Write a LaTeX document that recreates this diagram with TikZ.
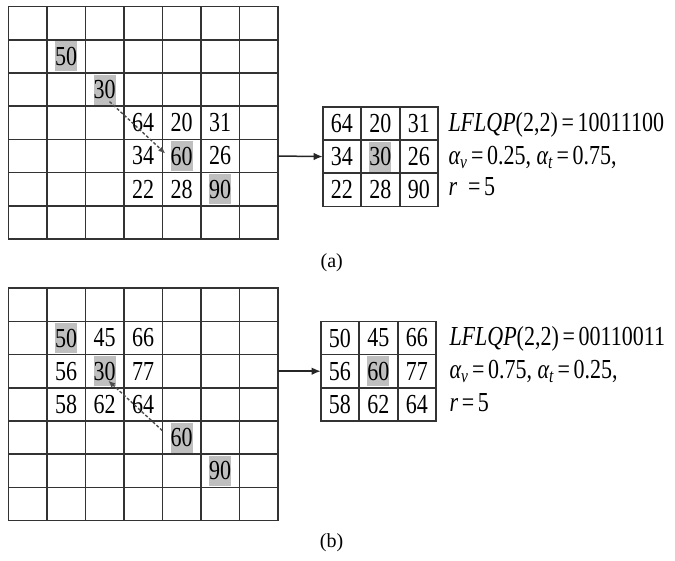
\documentclass[tikz,border=0pt]{standalone}
\usepackage{fontspec}
\setmainfont{Liberation Serif}
\usepackage{tikz}
\usetikzlibrary{positioning,arrows.meta}
\newcommand\cellfont{\fontsize{22}{26}\selectfont}
\newcommand\capfont{\fontsize{20}{24}\selectfont}

\begin{document}
\begin{tikzpicture}[x=1pt, y=-1pt, >={Latex[length=9pt,width=7.5pt]}, font=\cellfont,
    cell/.style={draw=black!80, line width=1.6pt, minimum width=38.5pt, minimum height=33.2pt, inner sep=0pt, outer sep=0pt},
    num/.style={inner sep=0pt, minimum width=22pt, minimum height=24pt, yscale=1.25, transform shape},
    hl/.style={num, fill=black!25},
    txt/.style={anchor=base west, inner sep=0pt, yscale=1.25, transform shape},
    link/.style={->, line width=1.5pt, black!85},
    trail/.style={-{Latex[length=7pt,width=6pt]}, dash pattern=on 3pt off 2pt, line width=1.4pt, black!70}]
  \useasboundingbox (0,0) rectangle (675,561);

  % (a) frame and its window
  \foreach \r in {1,...,7}
    \foreach \c in {1,...,7}
      \node[cell] (ga-\r-\c) at ({8.3+(\c-0.5)*38.5},{6.6+(\r-0.5)*33.2}) {};
  \foreach \r/\c/\v in {4/4/64, 4/5/20, 4/6/31, 5/4/34, 5/6/26, 6/4/22, 6/5/28}
    \node[num] (na-\r-\c) at (ga-\r-\c) {\v};
  \foreach \r/\c/\v in {2/2/50, 3/3/30, 5/5/60, 6/6/90}
    \node[hl] (na-\r-\c) at (ga-\r-\c) {\v};

  \foreach \r in {1,2,3}
    \foreach \c in {1,2,3}
      \node[cell] (sa-\r-\c) at ({322.7+(\c-0.5)*38.5},{106.8+(\r-0.5)*33.2}) {};
  \foreach \r/\c/\v in {1/1/64, 1/2/20, 1/3/31, 2/1/34, 2/3/26, 3/1/22, 3/2/28, 3/3/90}
    \node[num] (ma-\r-\c) at (sa-\r-\c) {\v};
  \node[hl] (ma-2-2) at (sa-2-2) {30};

  \draw[link] (ga-5-7.east) -- (sa-2-1.west);
  \draw[trail] ([shift={(5,12)}]ga-3-3.center) -- ([shift={(3,-2.5)}]ga-5-5.west);

  \node[txt] (ta1) at (448.3,131.7) {\textit{LFLQP}(2,2)\,=\,10011100};
  \node[txt] (ta2) at (448.3,165) {{\itshape α}\textsubscript{\itshape v}\,=\,0.25, {\itshape α}\textsubscript{\itshape t}\,=\,0.75,};
  \node[txt] (ta3) at (448.3,196) {\textit{r}\ \ =\,5};
  \node[font=\capfont] (capa) at (331.7,263) {(a)};

  % (b) frame and its window
  \foreach \r in {1,...,7}
    \foreach \c in {1,...,7}
      \node[cell] (gb-\r-\c) at ({8.3+(\c-0.5)*38.5},{288.2+(\r-0.5)*33.2}) {};
  \foreach \r/\c/\v in {2/3/45, 2/4/66, 3/2/56, 3/4/77, 4/2/58, 4/3/62, 4/4/64}
    \node[num] (nb-\r-\c) at (gb-\r-\c) {\v};
  \foreach \r/\c/\v in {2/2/50, 3/3/30, 5/5/60, 6/6/90}
    \node[hl] (nb-\r-\c) at (gb-\r-\c) {\v};

  \foreach \r in {1,2,3}
    \foreach \c in {1,2,3}
      \node[cell] (sb-\r-\c) at ({320.7+(\c-0.5)*38.5},{321.4+(\r-0.5)*33.2}) {};
  \foreach \r/\c/\v in {1/1/50, 1/2/45, 1/3/66, 2/1/56, 2/3/77, 3/1/58, 3/2/62, 3/3/64}
    \node[num] (mb-\r-\c) at (sb-\r-\c) {\v};
  \node[hl] (mb-2-2) at (sb-2-2) {60};

  \draw[link] (gb-3-7.east) -- (sb-2-1.west);
  \draw[trail] ([shift={(0,-7)}]gb-5-5.west) -- ([shift={(3.75,9.5)}]gb-3-3.center);

  \node[txt] (tb1) at (449.3,345.5) {\textit{LFLQP}(2,2)\,=\,00110011};
  \node[txt] (tb2) at (449.3,379) {{\itshape α}\textsubscript{\itshape v}\,=\,0.75, {\itshape α}\textsubscript{\itshape t}\,=\,0.25,};
  \node[txt] (tb3) at (449.3,411.5) {\textit{r}\,=\,5};
  \node[font=\capfont] (capb) at (331.5,543) {(b)};
\end{tikzpicture}
\end{document}
